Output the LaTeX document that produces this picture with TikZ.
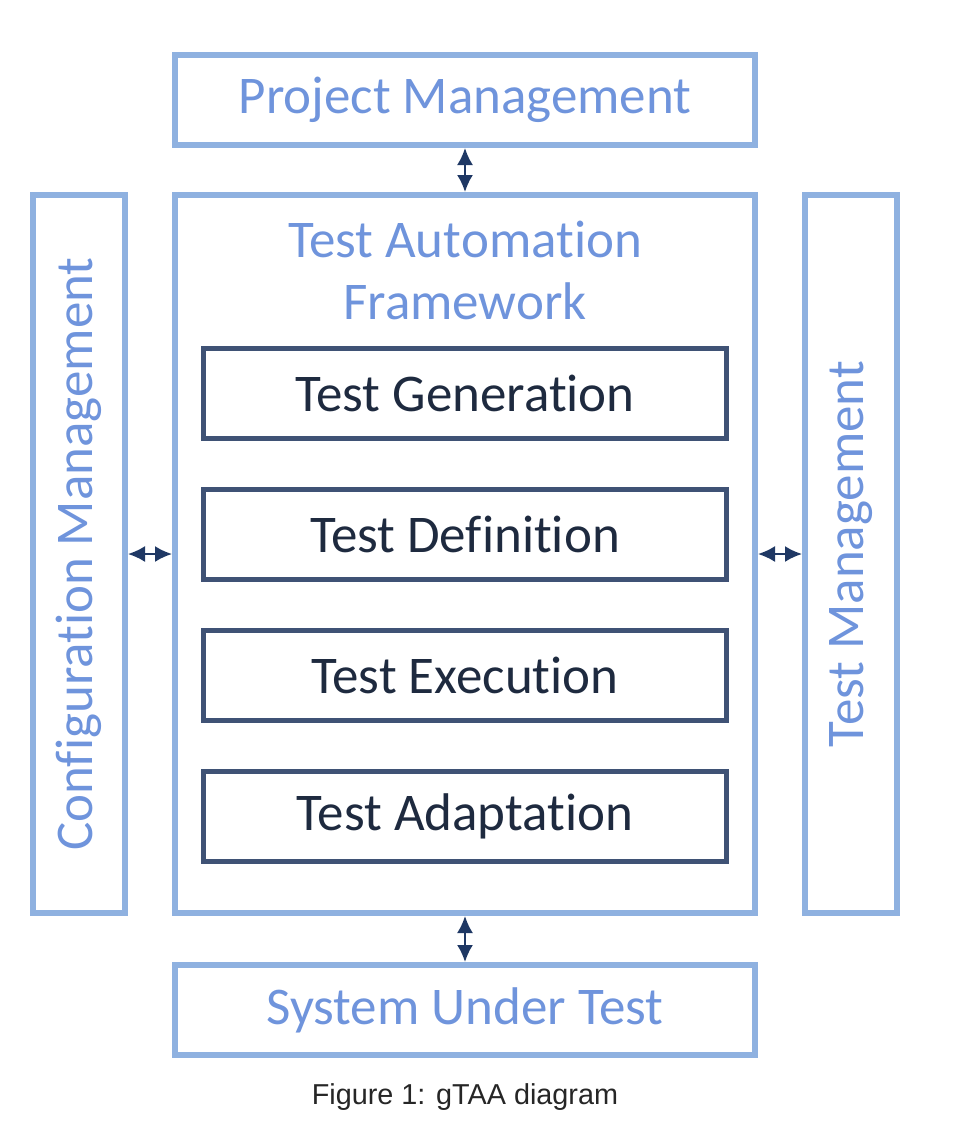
\documentclass[tikz,border=0pt]{standalone}
\usepackage{fontspec}
\setmainfont{Carlito}[Ligatures=NoCommon]
\newfontfamily\capfont{Liberation Sans}
\usetikzlibrary{arrows.meta,positioning}
\definecolor{lightblue}{HTML}{8FB1E0}
\definecolor{lighttext}{HTML}{6F94DC}
\definecolor{darkline}{HTML}{3F5275}
\definecolor{darktext}{HTML}{1E2A3F}
\definecolor{navy}{HTML}{1F3864}

\begin{document}
\begin{tikzpicture}[node distance=25pt,>={Latex[length=8.5pt,width=8pt]},font=\fontsize{26.5}{31}\selectfont,
outer/.style={draw=lightblue,line width=3pt,text=lighttext,align=center,minimum width=290pt,minimum height=45pt,inner sep=0pt,outer sep=0pt},
side/.style={draw=lightblue,line width=3pt,minimum width=46pt,minimum height=359pt,inner sep=0pt,outer sep=0pt},
part/.style={draw=darkline,line width=2.5pt,text=darktext,minimum width=261.5pt,minimum height=45pt,inner sep=0pt,outer sep=0pt},
link/.style={<->,navy,line width=1pt,shorten <=1.5pt,shorten >=1.5pt}]
\useasboundingbox (0,0) rectangle (485pt,-574pt);
\node[outer,minimum height=359pt](frame) at (232.5pt,-277pt){};
\node[text=lighttext,align=center,inner sep=0pt,below=13pt of frame.north](title){Test Automation\\Framework};
\node[outer,above=of frame](pm){Project Management};
\node[outer,below=26pt of frame](sut){System Under Test};
\node[side,left=of frame](cm){};
\node[rotate=90,text=lighttext](cmtext) at (cm){Configuration Management};
\node[side,right=of frame](tm){};
\node[rotate=90,text=lighttext](tmtext) at (tm){Test Management};
\node[part,below=76.5pt of frame.north](gen){Test Generation};
\node[part,below=25.5pt of gen](def){Test Definition};
\node[part,below=25.5pt of def](exe){Test Execution};
\node[part,below=25.5pt of exe](adapt){Test Adaptation};
\node[font=\capfont\fontsize{14.4}{17}\selectfont,text=black!85,inner sep=0pt,below=14pt of sut](caption){Figure 1: gTAA diagram};
\draw[link](pm)--(frame);
\draw[link](frame)--(sut);
\draw[link](cm)--(frame);
\draw[link](frame)--(tm);
\end{tikzpicture}
\end{document}
